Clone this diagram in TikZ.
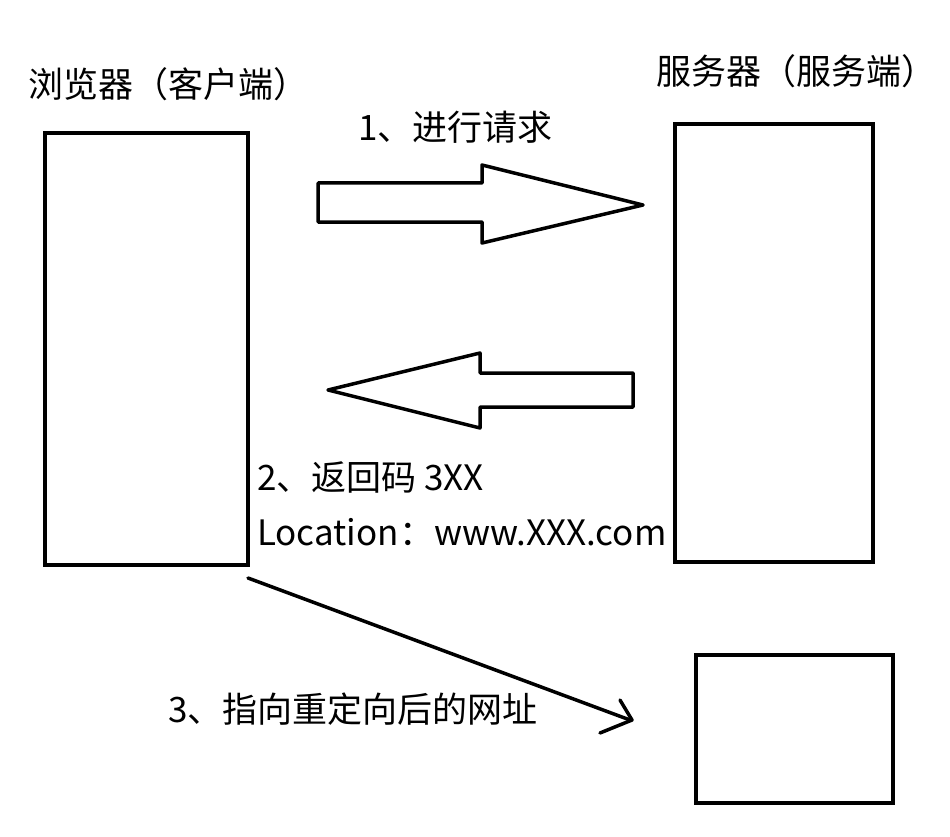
\documentclass[tikz,border=0pt]{standalone}
\usepackage{fontspec}
\setmainfont{Noto Sans CJK SC}
\tikzset{
	box/.style={draw, line width=3.5pt},
	label/.style={font=\fontsize{35}{42}\selectfont, anchor=west, inner sep=0pt},
}
\begin{document}
\begin{tikzpicture}[x=1pt, y=-1pt]
	\useasboundingbox (0,0) rectangle (950,837);
	
	\draw[box] (45,133) rectangle (248,565);
	\draw[box] (675,124) rectangle (873,562);
	\draw[box] (696,655) rectangle (893,803);
	
	\node[label] (client) at (28,84) {浏览器（客户端）};
	\node[label] (server) at (656,71) {服务器（服务端）};
	
	\draw[line width=3.5pt, line join=round] (318,183) -- (482,183) -- (482,165) -- (643,205) -- (482,243) -- (482,222) -- (318,222) -- cycle;
	\node[label] (req) at (358,127) {1、进行请求};
	
	\draw[line width=3.5pt, line join=round] (633,373) -- (480,373) -- (480,353) -- (328,390) -- (480,428) -- (480,407) -- (633,407) -- cycle;
	\node[label] (code) at (257,477) {2、返回码 3XX};
	\node[label] (loc) at (257,532) {Location：www.XXX.com};
	
	\draw[line width=3.5pt, line cap=round, line join=round] (248,578) -- (630,720);
	\draw[line width=3.5pt, line cap=round, line join=round] (620,700) -- (632,720) -- (600,733);
	\node[label] (redir) at (168,709) {3、指向重定向后的网址};
\end{tikzpicture}
\end{document}
